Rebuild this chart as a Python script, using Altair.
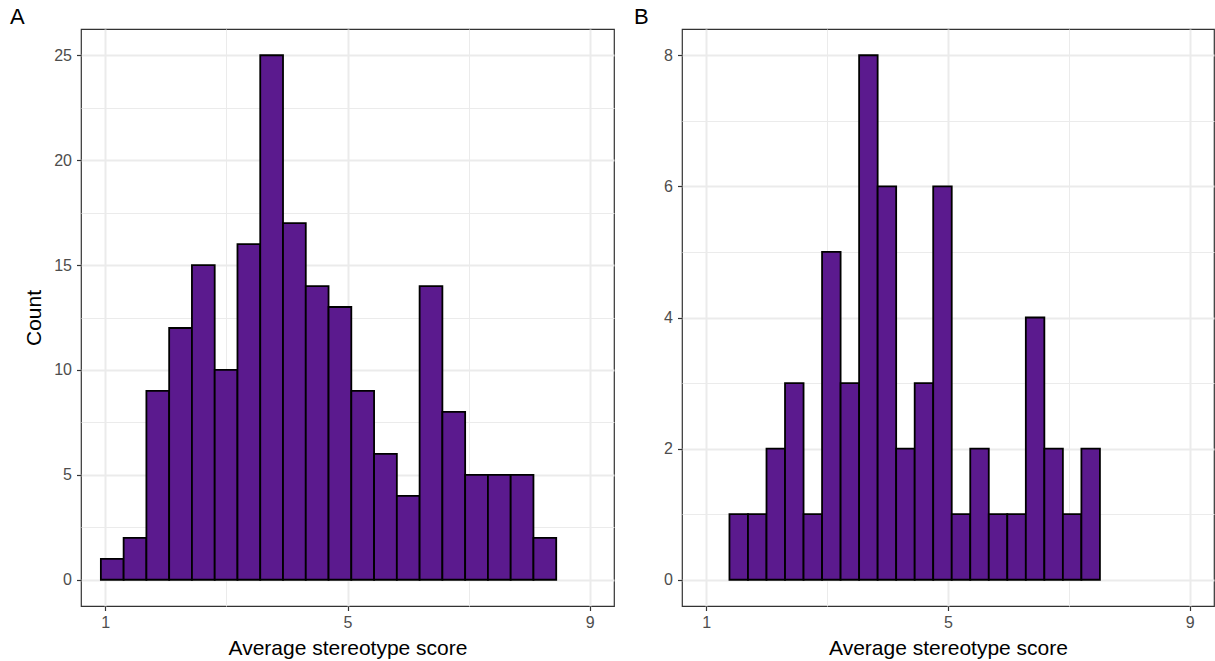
import altair as alt
import pandas as pd

# ---- data ----
A_COUNTS = [1, 2, 9, 12, 15, 10, 16, 25, 17, 14, 13, 9, 6, 4, 14, 8, 5, 5, 5, 2]
B_COUNTS = [1, 1, 2, 3, 1, 5, 3, 8, 6, 2, 3, 6, 1, 2, 1, 1, 4, 2, 1, 2]
A_BIN_START, A_BIN_WIDTH = 0.928, 0.3759
B_BIN_START, B_BIN_WIDTH = 1.385, 0.3064

X_GRID = [1, 3, 5, 7, 9]            # labels only at 1, 5, 9
A_Y_GRID = [0, 2.5, 5, 7.5, 10, 12.5, 15, 17.5, 20, 22.5, 25]
B_Y_GRID = [0, 1, 2, 3, 4, 5, 6, 7, 8]

FONT = "Liberation Sans"
FILL = "#5B1A8E"
X_TITLE = "Average stereotype score"


def frame(counts, start, width):
    return pd.DataFrame({
        "x0": [start + i * width for i in range(len(counts))],
        "x1": [start + (i + 1) * width for i in range(len(counts))],
        "count": counts,
    })


def cond(test, a, b):
    return {"condition": {"test": test, "value": a}, "value": b}


def panel(df, tag, tag_dx, ydomain, ygrid, ytest, ytitle, w):
    xtest = "(datum.value - 1) % 4 === 0"
    x_axis = alt.Axis(
        values=X_GRID,
        labelExpr=f"{xtest} ? datum.label : ''",
        tickOpacity=cond(xtest, 1, 0),
        gridWidth=cond(xtest, 2.0, 1.0),
        title=X_TITLE,
    )
    y_kwargs = dict(
        values=ygrid,
        labelExpr=f"{ytest} ? datum.label : ''",
        tickOpacity=cond(ytest, 1, 0),
        gridWidth=cond(ytest, 2.0, 1.0),
    )
    y_axis = alt.Axis(title=ytitle, **y_kwargs)
    return alt.Chart(df).mark_bar(
        fill=FILL, stroke="black", strokeWidth=1.8
    ).encode(
        x=alt.X("x0:Q", scale=alt.Scale(domain=[0.6, 9.4], nice=False, zero=False), axis=x_axis),
        x2="x1:Q",
        y=alt.Y("count:Q", scale=alt.Scale(domain=ydomain, nice=False, zero=False), axis=y_axis),
        y2=alt.datum(0),
    ).properties(
        width=w,
        height=577,
        title=alt.TitleParams(
            tag, anchor="start", frame="group", dx=tag_dx, offset=-17,
            baseline="alphabetic", fontSize=22, fontWeight="normal",
            font=FONT, color="black",
        ),
    )


a = panel(frame(A_COUNTS, A_BIN_START, A_BIN_WIDTH), "A", -71,
          [-1.25, 26.25], A_Y_GRID, "datum.value % 5 === 0", "Count", 533)
b = panel(frame(B_COUNTS, B_BIN_START, B_BIN_WIDTH), "B", -48,
          [-0.4, 8.4], B_Y_GRID, "datum.value % 2 === 0", None, 532)

chart = alt.hconcat(a, b, spacing=68, bounds="flush").properties(
    padding={"left": 9, "top": 5, "right": 0, "bottom": 0},
    background="white",
).configure_view(
    stroke="#333333", strokeWidth=1.2
).configure_axis(
    domain=False,
    gridColor="#EBEBEB",
    tickColor="#333333",
    tickWidth=1.2,
    tickSize=4.5,
    labelColor="#4D4D4D",
    labelFont=FONT,
    labelFontSize=16,
    titleFont=FONT,
    titleFontSize=21,
    titleFontWeight="normal",
    titleColor="black",
).configure_axisX(
    labelPadding=4,
    titlePadding=7,
).configure_axisY(
    labelPadding=5,
    titlePadding=9,
)

chart.save("out.html", embed_options={"renderer": "svg", "actions": False})
